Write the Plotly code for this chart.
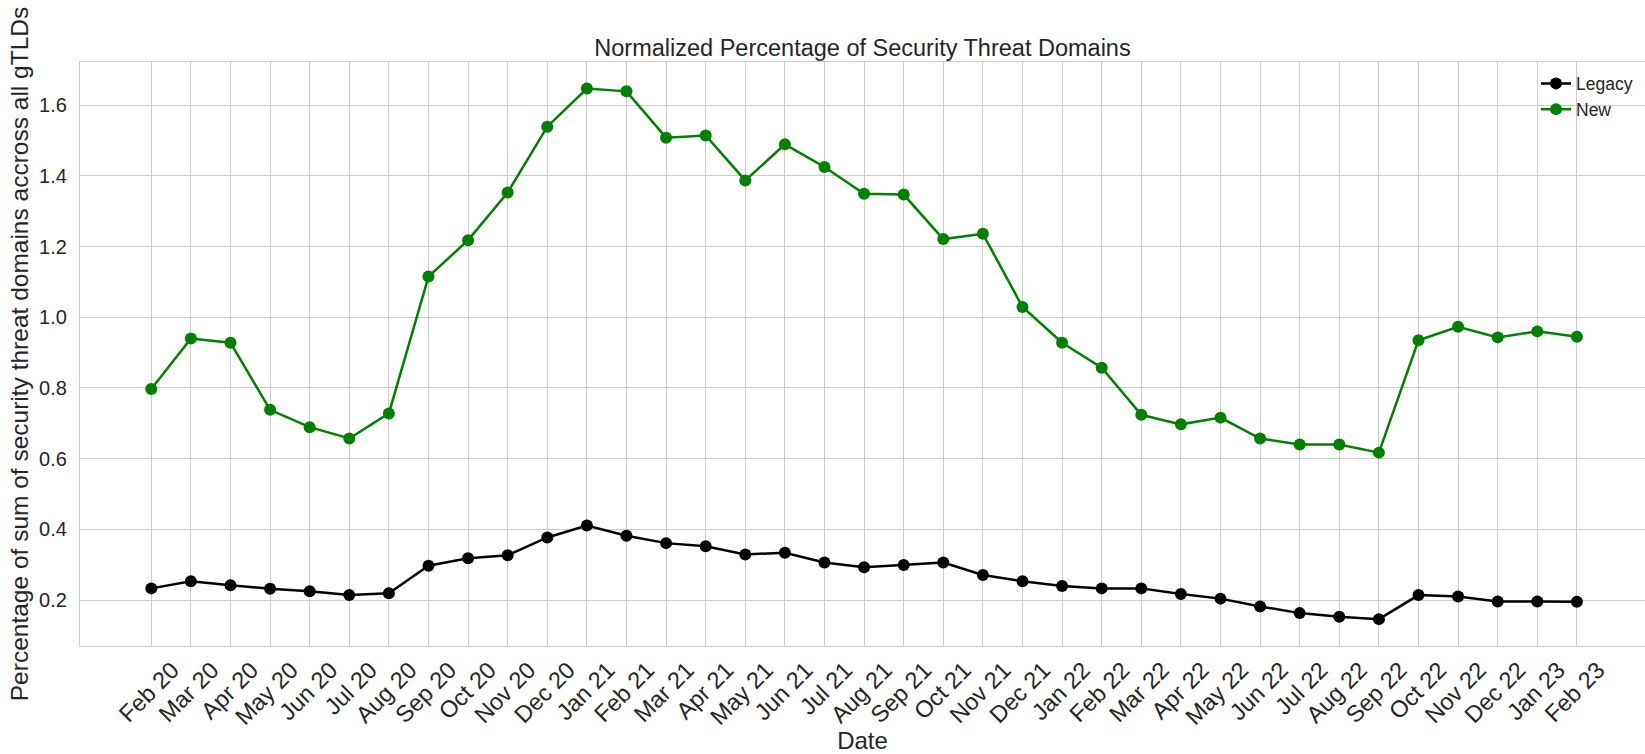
import plotly.graph_objects as go

dates = ["Feb 20", "Mar 20", "Apr 20", "May 20", "Jun 20", "Jul 20", "Aug 20", "Sep 20",
         "Oct 20", "Nov 20", "Dec 20", "Jan 21", "Feb 21", "Mar 21", "Apr 21", "May 21",
         "Jun 21", "Jul 21", "Aug 21", "Sep 21", "Oct 21", "Nov 21", "Dec 21", "Jan 22",
         "Feb 22", "Mar 22", "Apr 22", "May 22", "Jun 22", "Jul 22", "Aug 22", "Sep 22",
         "Oct 22", "Nov 22", "Dec 22", "Jan 23", "Feb 23"]

legacy = [0.233, 0.253, 0.242, 0.232, 0.225, 0.214, 0.219, 0.297,
          0.318, 0.327, 0.377, 0.411, 0.382, 0.361, 0.352, 0.329,
          0.334, 0.306, 0.293, 0.299, 0.306, 0.271, 0.253, 0.240,
          0.233, 0.233, 0.217, 0.204, 0.182, 0.163, 0.153, 0.146,
          0.214, 0.210, 0.196, 0.196, 0.195]

new = [0.797, 0.940, 0.928, 0.738, 0.689, 0.657, 0.728, 1.115,
       1.218, 1.353, 1.539, 1.647, 1.639, 1.508, 1.514, 1.387,
       1.489, 1.425, 1.349, 1.347, 1.221, 1.236, 1.029, 0.928,
       0.857, 0.724, 0.697, 0.716, 0.657, 0.640, 0.640, 0.617,
       0.935, 0.973, 0.943, 0.960, 0.945]

y_ticks = [0.2, 0.4, 0.6, 0.8, 1.0, 1.2, 1.4, 1.6]

FONT = "Liberation Sans, Arial, sans-serif"
TXT = "#262626"
GRID = "#cccccc"

idx = list(range(len(dates)))

fig = go.Figure()
fig.add_trace(go.Scatter(
    x=idx, y=legacy, name="Legacy", mode="lines+markers",
    line=dict(color="black", width=2.5),
    marker=dict(color="black", size=12),
))
fig.add_trace(go.Scatter(
    x=idx, y=new, name="New", mode="lines+markers",
    line=dict(color="green", width=2.5),
    marker=dict(color="green", size=12),
))

fig.update_layout(
    width=1645, height=754,
    margin=dict(l=80, r=0, t=62, b=108),
    plot_bgcolor="white", paper_bgcolor="white",
    font=dict(family=FONT, color=TXT),
    title=dict(text="Normalized Percentage of Security Threat Domains",
               x=0.5, xref="paper", xanchor="center",
               y=1 - 56 / 754, yref="container", yanchor="bottom",
               font=dict(size=23.5, color=TXT, family=FONT)),
    legend=dict(x=(1536 - 80) / 1565, xanchor="left", y=0.994, yanchor="top",
                bgcolor="rgba(0,0,0,0)", font=dict(size=17.5, color=TXT, family=FONT),
                itemwidth=30, tracegroupgap=0),
    showlegend=True,
)

fig.update_xaxes(
    range=[-1.8, 37.72],
    tickmode="array", tickvals=idx, ticktext=dates,
    tickangle=-45, tickfont=dict(size=23.5, color=TXT, family=FONT),
    ticklabelshift=21,
    showgrid=True, gridcolor=GRID, gridwidth=1,
    showline=True, linecolor=GRID, linewidth=1.2, mirror=True,
    zeroline=False, ticks="",
    automargin=True,
    title=dict(text="Date", font=dict(size=24, color=TXT, family=FONT), standoff=1),
)

fig.update_yaxes(
    range=[0.07, 1.722],
    tickmode="array", tickvals=y_ticks, ticktext=[f"{v:.1f}" for v in y_ticks],
    tickfont=dict(size=20, color=TXT, family=FONT),
    ticklabelstandoff=8,
    showgrid=True, gridcolor=GRID, gridwidth=1,
    showline=True, linecolor=GRID, linewidth=1.2, mirror=True,
    zeroline=False, ticks="",
    automargin=True,
    title=dict(text="Percentage of sum of security threat domains accross all gTLDs",
               font=dict(size=24.5, color=TXT, family=FONT), standoff=3),
)

fig.write_html(
    "out.html",
    config={"displayModeBar": False},
    post_script="document.body.style.margin='0';document.body.style.overflow='hidden';",
)
